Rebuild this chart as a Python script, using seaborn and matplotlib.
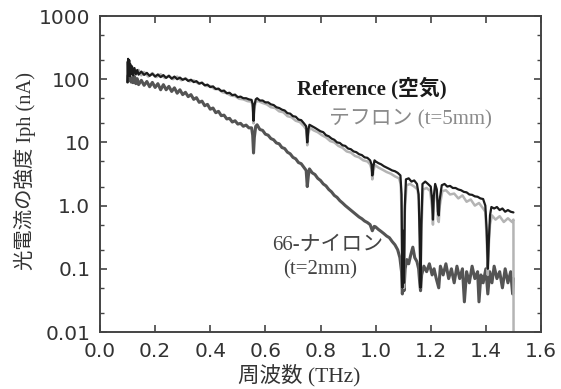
import numpy as np
import pandas as pd
import matplotlib
matplotlib.use("Agg")
import matplotlib.pyplot as plt
import seaborn as sns
from matplotlib.ticker import LogLocator, NullFormatter

# ---------------- data ----------------
ref_f = [0.100,0.102,0.104,0.106,0.108,0.110,0.113,0.116,0.120,0.125,0.130,0.135,0.140,0.150,0.160,0.170,0.180,0.190,
         0.200,0.210,0.220,0.230,0.240,0.250,0.260,0.270,0.280,0.290,0.300,0.310,0.320,0.330,0.340,0.350,0.360,0.370,
         0.380,0.390,0.400,0.410,0.420,0.430,0.440,0.450,0.460,0.470,0.480,0.490,0.500,0.510,0.520,0.530,0.540,0.550,
         0.554,0.557,0.560,0.565,0.570,0.580,0.590,0.600,0.610,0.620,0.630,0.640,0.650,0.660,0.670,0.680,0.690,0.700,
         0.710,0.720,0.730,0.740,0.748,0.752,0.756,0.760,0.770,0.780,0.790,0.800,0.810,0.820,0.830,0.840,0.850,0.860,
         0.870,0.880,0.890,0.900,0.910,0.920,0.930,0.940,0.950,0.960,0.970,0.980,0.985,0.988,0.992,0.996,1.000,1.010,
         1.020,1.030,1.040,1.050,1.060,1.070,1.080,1.090,1.094,1.097,1.100,1.103,1.106,1.110,1.120,1.130,1.140,1.150,
         1.156,1.160,1.163,1.166,1.170,1.180,1.190,1.200,1.205,1.208,1.211,1.216,1.222,1.226,1.229,1.232,1.240,1.250,
         1.260,1.270,1.280,1.290,1.300,1.310,1.320,1.330,1.340,1.350,1.360,1.370,1.380,1.390,1.398,1.403,1.407,1.411,
         1.415,1.420,1.430,1.440,1.450,1.460,1.470,1.480,1.490,1.500]
ref_i = [90,210,120,200,110,170,120,160,115,150,120,140,118,132,117,126,113,122,
         110,119,108,116,105,113,102,110,100,106,98,102,94,98,90,93,85,88,
         80,82,75,77,70,71,65,66,60,61,56,57,52,53,50,50,48,47,
         40,22,38,48,50,46,46,43,43,40,39,36,35,33,32,29,28.5,26,
         25.5,23,22.5,20,18,10,16,19,18,17,16,15,14.5,13,12.5,11.5,11,10,
         9.8,9,8.8,8,7.8,7.2,7,6.5,6.3,5.8,5.7,5.2,4.5,3.0,4.2,5.2,5.0,4.7,
         4.5,4.2,4.0,3.8,3.6,3.5,3.3,3.0,1.5,0.05,0.4,0.06,1.0,2.6,2.7,2.4,2.5,2.2,
         1.5,0.3,0.05,0.5,2.2,2.4,2.2,2.0,1.2,0.6,1.4,2.2,1.8,0.8,0.7,1.2,2.1,2.2,
         2.0,2.05,1.9,1.9,1.8,1.75,1.65,1.62,1.5,1.48,1.4,1.38,1.3,1.27,1.0,0.4,0.1,0.3,
         0.7,0.95,0.9,0.95,0.85,0.9,0.8,0.85,0.8,0.78]

tef_f = [0.100,0.103,0.106,0.110,0.115,0.120,0.130,0.140,0.150,0.160,0.175,0.190,0.205,0.220,0.235,0.250,0.265,0.280,
         0.295,0.310,0.325,0.340,0.355,0.370,0.385,0.400,0.415,0.430,0.445,0.460,0.475,0.490,0.505,0.520,0.535,0.550,
         0.554,0.557,0.560,0.565,0.575,0.590,0.605,0.620,0.635,0.650,0.665,0.680,0.695,0.710,0.725,0.740,0.748,0.752,
         0.756,0.762,0.775,0.790,0.805,0.820,0.835,0.850,0.865,0.880,0.895,0.910,0.925,0.940,0.955,0.970,0.980,0.985,
         0.988,0.992,0.997,1.010,1.025,1.040,1.055,1.070,1.085,1.091,1.094,1.097,1.100,1.103,1.106,1.112,1.125,1.140,
         1.152,1.157,1.160,1.163,1.166,1.172,1.185,1.198,1.205,1.208,1.211,1.217,1.223,1.226,1.229,1.233,1.242,1.255,
         1.270,1.285,1.300,1.315,1.330,1.345,1.360,1.375,1.390,1.398,1.403,1.407,1.411,1.415,1.422,1.435,1.450,1.465,
         1.480,1.495,1.500,1.5005]
tef_i = [120,190,110,175,115,150,118,140,115,130,110,125,108,120,104,114,100,110,
         96,104,92,96,86,88,78,78,70,69,62,60,55,54,49,48,45,44,
         36,20,34,44,45,42,40,36,35,31,30,26,25,22,21,18,16,9,
         14,17,15.5,14.5,13,12,10.5,10,8.8,8.2,7.2,6.9,6.1,5.8,5.2,5.0,4.5,3.8,
         2.6,3.5,4.4,4.0,3.7,3.4,3.2,2.9,2.7,2.2,0.8,0.05,0.3,0.05,0.8,2.1,2.2,2.0,
         1.8,1.2,0.25,0.05,0.4,1.8,1.9,1.7,0.9,0.5,1.1,1.7,1.4,0.6,0.55,1.0,1.7,1.75,
         1.5,1.55,1.3,1.45,1.15,1.25,1.0,1.1,0.9,0.8,0.3,0.08,0.25,0.5,0.7,0.6,0.68,0.55,
         0.63,0.55,0.6,0.005]

nyl_f = [0.100,0.102,0.104,0.106,0.108,0.110,0.113,0.116,0.120,0.125,0.130,0.135,0.140,0.150,0.160,0.170,0.180,0.190,
         0.200,0.210,0.220,0.230,0.240,0.250,0.260,0.270,0.280,0.290,0.300,0.310,0.320,0.330,0.340,0.350,0.360,0.370,
         0.380,0.390,0.400,0.410,0.420,0.430,0.440,0.450,0.460,0.470,0.480,0.490,0.500,0.510,0.520,0.530,0.540,0.550,
         0.554,0.557,0.560,0.565,0.570,0.580,0.590,0.600,0.610,0.620,0.630,0.640,0.650,0.660,0.670,0.680,0.690,0.700,
         0.710,0.720,0.730,0.740,0.748,0.752,0.756,0.760,0.770,0.780,0.790,0.800,0.810,0.820,0.830,0.840,0.850,0.860,
         0.870,0.880,0.890,0.900,0.910,0.920,0.930,0.940,0.950,0.960,0.970,0.980,0.988,0.995,1.000,1.010,1.020,1.030,
         1.040,1.050,1.060,1.070,1.080,1.088,1.094,1.097,1.100,1.103,1.107,1.113,1.120,1.128,1.135,1.142,1.150,1.156,
         1.160,1.163,1.167,1.175,1.185,1.195,1.205,1.212,1.220,1.229,1.235,1.245,1.255,1.265,1.275,1.285,1.295,1.305,
         1.315,1.322,1.330,1.340,1.350,1.360,1.370,1.375,1.382,1.390,1.400,1.407,1.414,1.422,1.430,1.440,1.450,1.460,
         1.470,1.480,1.490,1.497,1.500]
nyl_i = [90,190,100,170,95,150,90,130,88,112,85,102,82,96,80,92,76,89,
         74,85,68,82,68,77,64,73,60,68,57,62,53,57,48,51,43,45,
         38,40,33.5,35,29.5,31,26.5,27,23.5,24,21,22,19.5,20,18,18.8,17,17,
         13,6.8,12,18,19,16,15.5,13.5,13,11.5,11,9.8,9.5,8.3,8,7,6.6,5.8,
         5.5,4.8,4.6,4.0,3.6,2.0,3.0,3.8,3.3,3.1,2.7,2.5,2.2,2.05,1.8,1.65,1.45,1.35,
         1.2,1.1,1.0,0.92,0.85,0.78,0.72,0.66,0.62,0.57,0.54,0.5,0.4,0.47,0.46,0.42,0.39,0.36,
         0.33,0.31,0.27,0.24,0.2,0.15,0.09,0.04,0.07,0.045,0.1,0.14,0.12,0.17,0.22,0.15,0.13,0.1,
         0.06,0.045,0.08,0.11,0.09,0.12,0.08,0.1,0.07,0.05,0.11,0.08,0.12,0.07,0.1,0.06,0.11,0.07,
         0.1,0.03,0.09,0.06,0.11,0.07,0.09,0.03,0.08,0.06,0.1,0.04,0.09,0.06,0.11,0.07,0.09,0.05,
         0.1,0.06,0.09,0.04,0.07]

x_ticks = [0.0, 0.2, 0.4, 0.6, 0.8, 1.0, 1.2, 1.4, 1.6]
x_ticklabels = ["0.0", "0.2", "0.4", "0.6", "0.8", "1.0", "1.2", "1.4", "1.6"]
y_ticks = [0.01, 0.1, 1, 10, 100, 1000]
y_ticklabels = ["0.01", "0.1", "1.0", "10", "100", "1000"]

series_colors = {"Reference": "#1c1c1c", "Teflon": "#b4b4b4", "Nylon": "#545454"}

# ---------------- figure ----------------
sns.set_style("ticks")
plt.rcParams["font.family"] = ["DejaVu Sans", "Noto Sans CJK JP"]

W, H = 561, 389
fig = plt.figure(figsize=(W/100, H/100), dpi=100)
ax = fig.add_axes([100/W, 1-332/H, 441/W, 316/H])

df_ref = pd.DataFrame({"f": ref_f, "i": ref_i})
df_tef = pd.DataFrame({"f": tef_f, "i": tef_i})
df_nyl = pd.DataFrame({"f": nyl_f, "i": nyl_i})

sns.lineplot(data=df_nyl, x="f", y="i", ax=ax, color=series_colors["Nylon"], lw=2.2,
             estimator=None, sort=False)
sns.lineplot(data=df_tef, x="f", y="i", ax=ax, color=series_colors["Teflon"], lw=1.8,
             estimator=None, sort=False)
sns.lineplot(data=df_ref, x="f", y="i", ax=ax, color=series_colors["Reference"], lw=1.6,
             estimator=None, sort=False)

ax.set_yscale("log")
ax.set_xlim(0.0, 1.6)
ax.set_ylim(0.01, 1000)
ax.set_xticks(x_ticks)
ax.set_xticklabels(x_ticklabels)
ax.set_yticks(y_ticks)
ax.set_yticklabels(y_ticklabels)
ax.yaxis.set_minor_locator(LogLocator(base=10, subs=[2, 5]))
ax.yaxis.set_minor_formatter(NullFormatter())
ax.set_xlabel("")
ax.set_ylabel("")

spine_col = "#444444"
for s in ax.spines.values():
    s.set_visible(True)
    s.set_color(spine_col)
    s.set_linewidth(1.4)

ax.tick_params(axis="both", which="major", direction="in", length=5, width=1.2,
               colors=spine_col, top=True, right=True, labelsize=14.5, labelcolor="#333333")
ax.tick_params(axis="x", which="major", pad=7)
ax.tick_params(axis="y", which="major", pad=7)
ax.tick_params(axis="y", which="minor", direction="in", length=3, width=1.0,
               colors=spine_col, right=True, left=True)

serif_cjk = ["Liberation Serif", "Noto Sans CJK JP"]
fig.text(299/W, 1-375/H, "周波数 (THz)", family=serif_cjk, fontsize=15.5, color="#333333",
         ha="center", va="center")
fig.text(25/W, 1-171/H, "光電流の強度 Iph (nA)", family=serif_cjk, fontsize=14.7, color="#333333",
         ha="center", va="center", rotation=90)

ax.text(0.987, 72.6, "Reference (空気)", family=serif_cjk, fontsize=15, fontweight="bold",
        color="#1a1a1a", ha="center", va="center")
ax.text(1.125, 23.4, "テフロン (t=5mm)", family=serif_cjk, fontsize=15,
        color="#8a8a8a", ha="center", va="center")
ax.text(0.827, 0.238, "66-ナイロン", family=serif_cjk, fontsize=15,
        color="#444444", ha="center", va="center")
ax.text(0.798, 0.0957, "(t=2mm)", family=serif_cjk, fontsize=15,
        color="#444444", ha="center", va="center")

fig.savefig("out.png", dpi=100)
